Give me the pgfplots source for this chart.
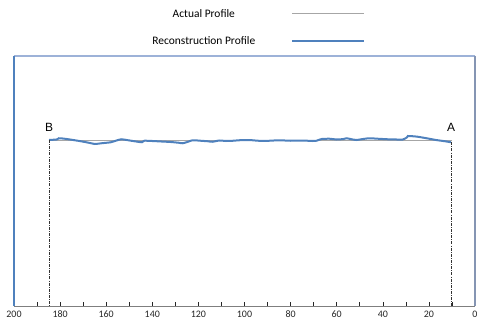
\documentclass[border=0pt]{standalone}
\usepackage{pgfplots}
\pgfplotsset{compat=1.18}
\usepackage{fontspec}
\setmainfont{Carlito}
\newfontfamily\labelfont{Liberation Sans}
\definecolor{recblue}{HTML}{4F81BD}
\definecolor{framelight}{HTML}{9DB2D8}
\definecolor{frameright}{HTML}{8595B3}
\definecolor{axisgray}{HTML}{7F7F7F}

\begin{document}
\begin{tikzpicture}[x=1bp,y=1bp]
\useasboundingbox (0,0) rectangle (477,323);
\begin{axis}[
  at={(14bp,17bp)}, anchor=south west,
  scale only axis,
  width=461bp, height=250bp,
  xmin=0, xmax=200, ymin=0, ymax=100,
  x dir=reverse,
  axis line style={draw=none},
  xtick={0,20,...,200},
  minor xtick={10,30,...,190},
  ytick=\empty,
  xtick pos=bottom,
  tick align=inside,
  major tick length=4.5bp, minor tick length=4.5bp,
  every tick/.style={draw=black!85, line width=0.6bp},
  minor tick style={draw=black!85, line width=0.6bp},
  xticklabel style={font=\fontsize{10}{11}\selectfont, color=black!85, yshift=-1.5bp},
  /pgf/number format/assume math mode=true,
  clip=false,
  legend plot pos=right,
  legend cell align=center,
  legend style={
    at={(rel axis cs:0.53,1.114)}, anchor=center,
    draw=none, fill=none,
    font=\fontsize{11.5}{13}\selectfont,
    row sep=16bp, column sep=35bp,
    nodes={inner sep=1bp},
  },
  legend image code/.code={\draw[#1] (0bp,0bp) -- (72bp,0bp);},
]
\addplot[gray!70, line width=0.7bp] coordinates {(185,66.4) (10,66.4)};
\addlegendentry{Actual Profile}

\addplot[recblue, line width=2bp, smooth, tension=0.4] coordinates {
 (184.8,66.4) (183,66.5) (181.5,66.6) (180.5,67.1) (178,66.9) (175,66.5)
 (171,65.9) (167,65.2) (164.9,64.8) (162,65.1) (158,65.5) (155.5,66.2)
 (153.4,66.7) (150.5,66.3) (147,65.8) (144.5,65.5) (143.5,66.1) (140,66.0)
 (136,65.8) (132,65.6) (128.5,65.3) (126.8,65.1) (124.5,65.7) (122.5,66.3)
 (119,66.1) (116,65.9) (113.9,65.7) (111,66.2) (108,66.0) (105,66.1)
 (102.2,66.3) (98,66.4) (94,66.1) (89.2,66.1) (85,66.3) (80,66.1)
 (75,66.2) (70.5,66.0) (68.8,66.1) (66.5,66.8) (63,66.9) (60,66.6)
 (57,66.8) (55.8,67.1) (53,66.6) (51.5,66.4) (48.5,66.8) (45.9,67.1)
 (42,66.9) (38,66.7) (34,66.6) (31.3,66.6) (29.6,67.4) (29.1,68.0)
 (27,67.9) (24.8,67.7) (21,67.1) (16.9,66.4) (13,65.9) (10.4,65.5)
};
\addlegendentry{Reconstruction Profile}

% end markers of the section
\addplot[black!80, line width=0.7bp, dash pattern=on 3bp off 1.2bp on 0.8bp off 1.2bp, forget plot] coordinates {(184.8,66.4) (184.8,0)};
\addplot[black!80, line width=0.7bp, dash pattern=on 3bp off 1.2bp on 0.8bp off 1.2bp, forget plot] coordinates {(10.4,65.5) (10.4,0)};

\node[font=\labelfont\fontsize{12}{13}\selectfont] at (axis cs:184.8,71.6) {B};
\node[font=\labelfont\fontsize{12}{13}\selectfont] at (axis cs:10.4,71.6) {A};

% frame of the plot area
\draw[framelight, line width=1.2bp] (rel axis cs:0,1) -- (rel axis cs:1,1);
\draw[frameright, line width=1.2bp] (rel axis cs:1,1) -- (rel axis cs:1,0);
\draw[axisgray, line width=1bp] (rel axis cs:0,0) -- (rel axis cs:1,0);
\draw[recblue, line width=1.6bp] (rel axis cs:0,0) -- (rel axis cs:0,1);
\end{axis}
\end{tikzpicture}
\end{document}
